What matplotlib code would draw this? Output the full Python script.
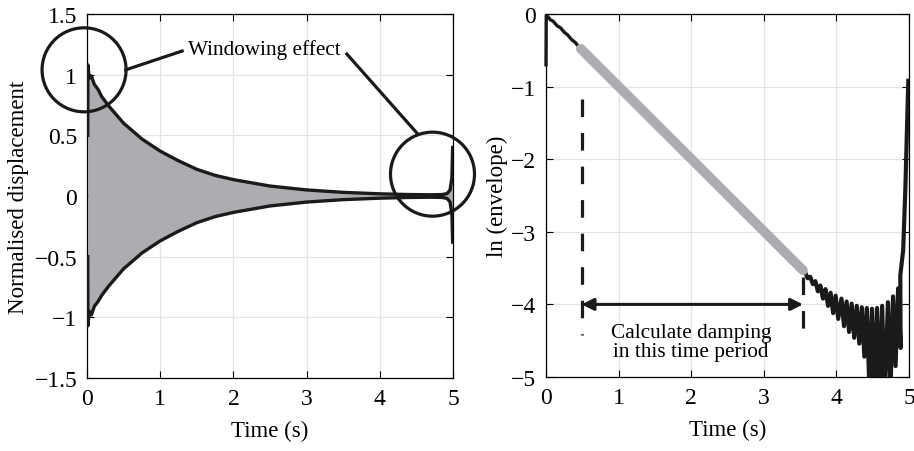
import matplotlib
matplotlib.use("Agg")
import matplotlib.pyplot as plt
import matplotlib.ticker as mticker
from matplotlib.patches import Ellipse

plt.rcParams['font.family'] = ['Liberation Serif', 'DejaVu Serif']
plt.rcParams['axes.unicode_minus'] = True

# ---------------- data ----------------
# Left panel: envelope of the normalised displacement
t_env = [0.01, 0.012, 0.03, 0.06, 0.1, 0.15, 0.2, 0.3, 0.4, 0.5, 0.75, 1.0, 1.25,
         1.5, 1.75, 2.0, 2.5, 3.0, 3.5, 4.0, 4.4, 4.7, 4.85, 4.92, 4.96, 4.985, 4.995]
env_upper = [0.5, 1.08, 0.97, 0.99, 0.92, 0.88, 0.82, 0.74, 0.67, 0.6, 0.47, 0.37, 0.29,
             0.22, 0.17, 0.135, 0.082, 0.05, 0.03, 0.018, 0.012, 0.01, 0.012, 0.02, 0.05, 0.15, 0.4]
env_lower = [-0.5, -1.07, -0.95, -0.98, -0.91, -0.87, -0.82, -0.74, -0.67, -0.6, -0.47, -0.37, -0.29,
             -0.22, -0.17, -0.135, -0.082, -0.05, -0.03, -0.018, -0.012, -0.01, -0.012, -0.02, -0.05, -0.15, -0.38]

# Right panel: ln(envelope)
t_start = [0.0, 0.003, 0.02, 0.06, 0.1, 0.15, 0.2, 0.25, 0.3, 0.35, 0.4, 0.45, 0.5]
ln_start = [-0.7, -0.02, -0.03, -0.08, -0.1, -0.16, -0.19, -0.25, -0.29, -0.35, -0.39, -0.45, -0.49]

t_fit = [0.48, 3.54]
ln_fit = [-0.48, -3.53]

t_teeth = [3.57, 3.64, 3.71, 3.78, 3.85, 3.92, 3.99, 4.07, 4.14, 4.21, 4.28, 4.35,
           4.42, 4.49, 4.56, 4.63, 4.71, 4.78, 4.85]
ln_top = [-3.56, -3.62, -3.68, -3.74, -3.79, -3.84, -3.88, -3.92, -3.96, -3.99, -4.02, -4.04,
          -4.05, -4.06, -4.05, -4.02, -3.97, -3.89, -3.78]
ln_bottom = [-3.64, -3.72, -3.82, -3.92, -4.02, -4.12, -4.20, -4.30, -4.38, -4.46, -4.54, -4.72,
             -5.2, -5.3, -5.3, -5.3, -5.2, -4.85, -4.60]

t_tail = [4.88, 4.92, 4.95, 4.99]
ln_tail = [-3.6, -3.25, -2.4, -0.92]

t_marks = [0.49, 3.54]

x_ticks = [0, 1, 2, 3, 4, 5]
y_ticks_left = [-1.5, -1, -0.5, 0, 0.5, 1, 1.5]
y_ticks_right = [-5, -4, -3, -2, -1, 0]

# ---------------- style ----------------
GRAY = '#acadb0'
BLACK = '#1a1a1a'
FS = 16.5

fig = plt.figure(figsize=(9.14, 4.52), dpi=100)
ax1 = fig.add_axes([87/914, 1-379/452, 366/914, 364/452])
ax2 = fig.add_axes([546/914, 1-378/452, 363/914, 363/452])

fmt = mticker.FuncFormatter(lambda v, p: f'{v:g}'.replace('-', '\u2212'))

for ax in (ax1, ax2):
    ax.set_xlim(0, 5)
    ax.set_xticks(x_ticks)
    ax.xaxis.set_major_formatter(fmt)
    ax.yaxis.set_major_formatter(fmt)
    ax.grid(True, color='#e4e4e4', lw=0.9)
    ax.set_axisbelow(True)
    ax.tick_params(direction='in', top=True, right=True, labelsize=17, length=5,
                   width=0.8, pad=7)
    for s in ax.spines.values():
        s.set_linewidth(0.9)
        s.set_color('black')
    ax.set_xlabel('Time (s)', fontsize=FS, labelpad=8)

# ---------- left panel ----------
ax1.set_ylim(-1.5, 1.5)
ax1.set_yticks(y_ticks_left)
ax1.fill_between(t_env, env_lower, env_upper, color=GRAY, lw=0, zorder=2)
ax1.plot(t_env, env_upper, color=BLACK, lw=2.4, zorder=3)
ax1.plot(t_env, env_lower, color=BLACK, lw=2.4, zorder=3)
ax1.set_ylabel('Normalised displacement', fontsize=FS, labelpad=4)

# circles and annotation
r_x = 2 * 42 / 73.2
r_y = 2 * 42 / 121.3
for (cx, cy) in [(-0.04, 1.04), (4.72, 0.18)]:
    e = Ellipse((cx, cy), r_x, r_y, fill=False, ec=BLACK, lw=2.3, clip_on=False, zorder=5)
    ax1.add_patch(e)
ax1.plot([0.53, 1.30], [1.04, 1.195], color=BLACK, lw=2.3, clip_on=False, zorder=5)
ax1.plot([3.55, 4.52], [1.17, 0.51], color=BLACK, lw=2.3, clip_on=False, zorder=5)
ax1.text(1.38, 1.21, 'Windowing effect', fontsize=15.3, ha='left', va='center',
         zorder=6)

# ---------- right panel ----------
ax2.set_ylim(-5, 0)
ax2.set_yticks(y_ticks_right)
ax2.plot(t_start, ln_start, color=BLACK, lw=2.4, zorder=3, clip_on=False)
ax2.plot(t_fit, ln_fit, color=GRAY, lw=7, solid_capstyle='round', zorder=4)

t_osc, ln_osc = [], []
for t, top, bot in zip(t_teeth, ln_top, ln_bottom):
    t_osc += [t, t + 0.035]
    ln_osc += [top, bot]
t_osc = [t_fit[1]] + t_osc + t_tail
ln_osc = [ln_fit[1]] + ln_osc + ln_tail
ax2.plot(t_osc, ln_osc, color=BLACK, lw=3.0, zorder=3)

ax2.plot([t_marks[0], t_marks[0]], [-1.17, -4.42], color=BLACK, lw=2.3,
         dashes=(5.5, 5), zorder=5)
ax2.plot([t_marks[1], t_marks[1]], [-3.62, -4.42], color=BLACK, lw=2.3,
         dashes=(5.5, 5), zorder=5)
ax2.annotate('', xy=(t_marks[0], -4), xytext=(t_marks[1], -4),
             arrowprops=dict(arrowstyle='<|-|>', color=BLACK, lw=2.2,
                             mutation_scale=18, shrinkA=0, shrinkB=0), zorder=5)
ax2.text(2.0, -4.52, 'Calculate damping\nin this time period', fontsize=15.3,
         ha='center', va='center', linespacing=1.0)
ax2.set_ylabel('ln (envelope)', fontsize=FS, labelpad=2)

fig.savefig('out.png', dpi=100)
